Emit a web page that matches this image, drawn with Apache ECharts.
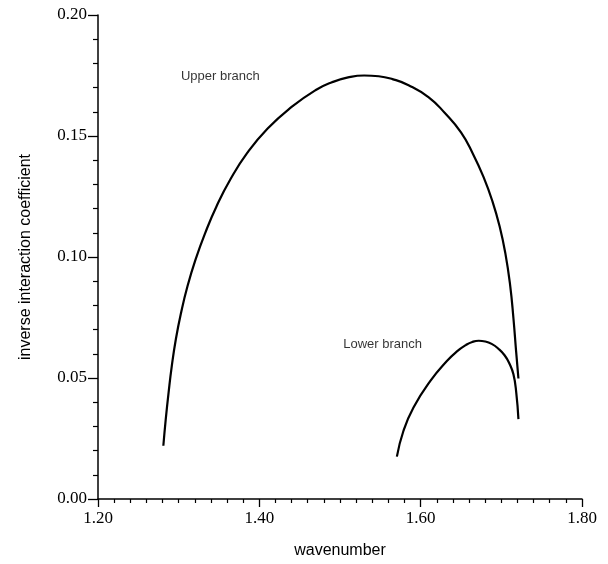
<!DOCTYPE html>
<html>
<head>
<meta charset="utf-8">
<script src="https://cdn.jsdelivr.net/npm/echarts@6/dist/echarts.min.js"></script>
<style>
html,body{margin:0;padding:0;background:#fff;}
#chart{width:608px;height:564px;}
</style>
</head>
<body>
<div id="chart"></div>
<script>
// Data
var upperBranch = [
  [1.2810, 0.0220], [1.2840, 0.0330], [1.2875, 0.0440], [1.2915, 0.0550],
  [1.2965, 0.0660], [1.3030, 0.0770], [1.3110, 0.0880], [1.3210, 0.0990],
  [1.3330, 0.1100], [1.3470, 0.1210], [1.3640, 0.1320], [1.3850, 0.1430],
  [1.4100, 0.1530], [1.4400, 0.1620], [1.4700, 0.1690], [1.4900, 0.1722],
  [1.5100, 0.1742], [1.5300, 0.1750], [1.5480, 0.1747], [1.5650, 0.1735],
  [1.5850, 0.1710], [1.6100, 0.1660], [1.6300, 0.1595], [1.6500, 0.1515],
  [1.6650, 0.1425], [1.6780, 0.1330], [1.6890, 0.1230], [1.6980, 0.1125],
  [1.7050, 0.1015], [1.7109, 0.0884], [1.7150, 0.0747], [1.7183, 0.0611],
  [1.7212, 0.0498]
];
var lowerBranch = [
  [1.5705, 0.0175], [1.5787, 0.0282], [1.5911, 0.0378], [1.6118, 0.0487],
  [1.6325, 0.0570], [1.6450, 0.0610], [1.6560, 0.0636], [1.6640, 0.0649],
  [1.6720, 0.0654], [1.6800, 0.0651], [1.6880, 0.0641], [1.6960, 0.0622],
  [1.7040, 0.0594], [1.7100, 0.0560], [1.7150, 0.0515], [1.7185, 0.0440],
  [1.7212, 0.0330]
];
var annotationTexts = ['Upper branch', 'Lower branch'];
var annotationAnchors = [[1.3028, 0.1747], [1.504, 0.0638]];
var xTicks = [1.20, 1.40, 1.60, 1.80];
var yTicks = [0.00, 0.05, 0.10, 0.15, 0.20];
var xName = 'wavenumber';
var yName = 'inverse interaction coefficient';

var chart = echarts.init(document.getElementById('chart'), null, {renderer: 'canvas'});
var serif = '"Liberation Serif", "Times New Roman", serif';
var sans = '"Liberation Sans", Arial, sans-serif';

var axisCommon = {
  axisLine: {show: true, onZero: false, lineStyle: {color: '#000', width: 1.5}},
  splitLine: {show: false},
  axisLabel: {color: '#000', fontFamily: serif, fontSize: 17, formatter: function (v) { return v.toFixed(2); }}
};

chart.setOption({
  animation: false,
  backgroundColor: '#fff',
  grid: {left: 98, right: 26, top: 15, bottom: 62, containLabel: false},
  xAxis: Object.assign({}, axisCommon, {
    type: 'value',
    min: xTicks[0], max: xTicks[xTicks.length - 1], interval: 0.2,
    name: xName, nameLocation: 'middle', nameGap: 44,
    nameTextStyle: {color: '#000', fontFamily: sans, fontSize: 16},
    axisTick: {show: true, inside: false, length: 8, lineStyle: {color: '#000', width: 1.3}},
    minorTick: {show: true, splitNumber: 10, length: 4, lineStyle: {color: '#000', width: 1.2}},
    axisLabel: Object.assign({}, axisCommon.axisLabel, {margin: 11})
  }),
  yAxis: Object.assign({}, axisCommon, {
    type: 'value',
    min: yTicks[0], max: yTicks[yTicks.length - 1], interval: 0.05,
    name: yName, nameLocation: 'middle', nameGap: 64, nameRotate: 90,
    nameTextStyle: {color: '#000', fontFamily: sans, fontSize: 16},
    axisTick: {show: true, inside: false, length: 10, lineStyle: {color: '#000', width: 1.3}},
    minorTick: {show: true, splitNumber: 5, length: 5, lineStyle: {color: '#000', width: 1.2}},
    axisLabel: Object.assign({}, axisCommon.axisLabel, {margin: 11})
  }),
  series: [
    {
      type: 'line', name: 'Upper branch', data: upperBranch,
      showSymbol: false, smooth: 0.5,
      lineStyle: {color: '#000', width: 2.2}
    },
    {
      type: 'line', name: 'Lower branch', data: lowerBranch,
      showSymbol: false, smooth: 0.5,
      lineStyle: {color: '#000', width: 2.2}
    },
    {
      type: 'scatter', symbolSize: 0, silent: true,
      data: annotationAnchors.map(function (p, i) { return {value: p, name: annotationTexts[i]}; }),
      label: {
        show: true, position: 'right', distance: 0,
        formatter: function (p) { return p.name; },
        color: '#000', fontFamily: sans, fontSize: 13
      }
    }
  ]
});
</script>
</body>
</html>
